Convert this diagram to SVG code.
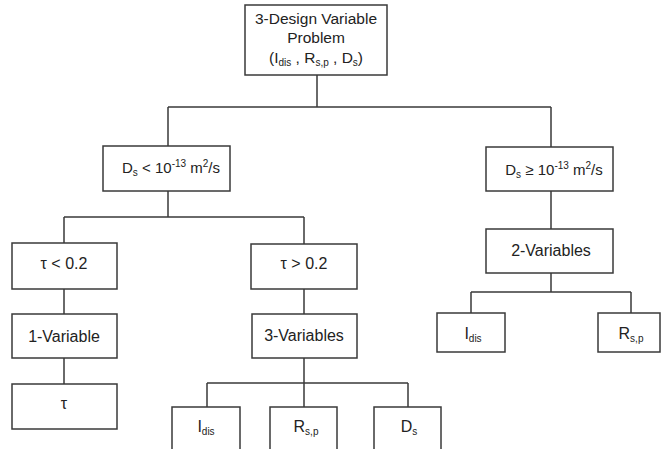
<svg xmlns="http://www.w3.org/2000/svg" width="662" height="449" viewBox="0 0 662 449">
<style>
.box{fill:#fff;stroke:#3a3a3a;stroke-width:1.5}
.ln{stroke:#3a3a3a;stroke-width:1.5;fill:none}
text{font-family:"Liberation Sans",Arial,sans-serif;font-size:16px;fill:#222;text-anchor:middle}
.sm{font-size:15px}
.sub{font-size:10px}
</style>
<rect width="662" height="449" fill="#fff"/>
<g id="connectors">
<path class="ln" d="M317 75V107M168 107H551M168 107V146M551 107V147"/>
<path class="ln" d="M168 191V217M64 217H304M64 217V243M304 217V244"/>
<path class="ln" d="M64 289V314M64 358V384"/>
<path class="ln" d="M304 289V314M304 358V383M207 383H408M207 383V407M304 383V407M408 383V407"/>
<path class="ln" d="M551 191V229M551 273V292M471 292H631M471 292V313M631 292V313"/>
</g>
<g id="root">
<rect class="box" x="245" y="5" width="142" height="70"/>
<text x="316" y="24" style="font-size:15.5px">3-Design Variable</text>
<text x="316" y="43" style="font-size:15.5px">Problem</text>
<text x="316" y="63" style="font-size:15.5px">(I<tspan class="sub" dy="3">dis</tspan><tspan dy="-3"> , R</tspan><tspan class="sub" dy="3">s,p</tspan><tspan dy="-3"> , D</tspan><tspan class="sub" dy="3">s</tspan><tspan dy="-3">)</tspan></text>
</g>
<g id="ds-low">
<rect class="box" x="103" y="146" width="127" height="45"/>
<text class="sm" x="171" y="173">D<tspan class="sub" dy="3">s</tspan><tspan dy="-3"> &lt; 10</tspan><tspan class="sub" dy="-6">-13</tspan><tspan dy="6"> m</tspan><tspan class="sub" dy="-6">2</tspan><tspan dy="6">/s</tspan></text>
</g>
<g id="ds-high">
<rect class="box" x="486" y="147" width="127" height="44"/>
<text class="sm" x="554" y="175">D<tspan class="sub" dy="3">s</tspan><tspan dy="-3"> ≥ 10</tspan><tspan class="sub" dy="-6">-13</tspan><tspan dy="6"> m</tspan><tspan class="sub" dy="-6">2</tspan><tspan dy="6">/s</tspan></text>
</g>
<g id="tau-low">
<rect class="box" x="12" y="243" width="105" height="46"/>
<text x="64" y="269">τ &lt; 0.2</text>
</g>
<g id="one-var">
<rect class="box" x="12" y="314" width="105" height="44"/>
<text x="64" y="342">1-Variable</text>
</g>
<g id="tau">
<rect class="box" x="12" y="384" width="105" height="45"/>
<text x="64" y="409">τ</text>
</g>
<g id="tau-high">
<rect class="box" x="251" y="244" width="106" height="45"/>
<text x="304" y="269">τ &gt; 0.2</text>
</g>
<g id="three-var">
<rect class="box" x="252" y="314" width="105" height="44"/>
<text x="304" y="341">3-Variables</text>
</g>
<g id="idis-b">
<rect class="box" x="172" y="407" width="68" height="46"/>
<text x="206" y="432">I<tspan class="sub" dy="3">dis</tspan></text>
</g>
<g id="rsp-b">
<rect class="box" x="270" y="407" width="67" height="46"/>
<text x="306" y="432">R<tspan class="sub" dy="3">s,p</tspan></text>
</g>
<g id="ds-b">
<rect class="box" x="374" y="407" width="67" height="46"/>
<text x="409" y="432">D<tspan class="sub" dy="3">s</tspan></text>
</g>
<g id="two-var">
<rect class="box" x="486" y="229" width="127" height="44"/>
<text x="551" y="256">2-Variables</text>
</g>
<g id="idis-r">
<rect class="box" x="437" y="313" width="68" height="39"/>
<text x="473" y="339">I<tspan class="sub" dy="3">dis</tspan></text>
</g>
<g id="rsp-r">
<rect class="box" x="598" y="313" width="62" height="39"/>
<text x="631" y="339">R<tspan class="sub" dy="3">s,p</tspan></text>
</g>
</svg>
